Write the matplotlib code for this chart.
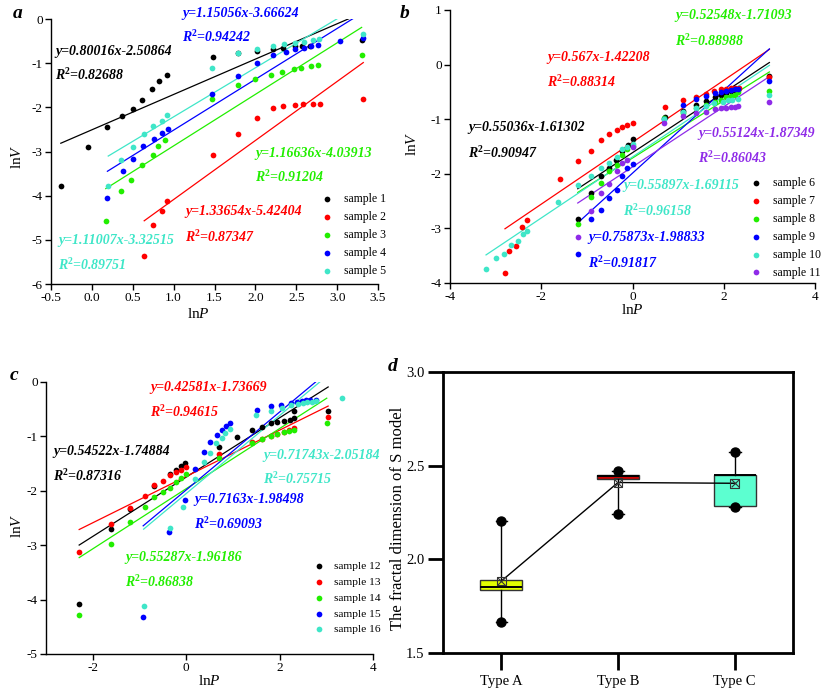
import matplotlib
matplotlib.use("Agg")
import matplotlib.pyplot as plt
import numpy as np

plt.rcParams['font.family'] = ['Liberation Serif', 'DejaVu Serif']
plt.rcParams['axes.unicode_minus'] = False
plt.rcParams['mathtext.fontset'] = 'custom'
plt.rcParams['mathtext.rm'] = 'Liberation Serif'
plt.rcParams['mathtext.it'] = 'Liberation Serif:italic'
plt.rcParams['mathtext.bf'] = 'Liberation Serif:bold'
plt.rcParams['mathtext.bfit'] = 'Liberation Serif:bold:italic'

# ---------------- Panel a data ----------------
s1_x = [-0.38, -0.05, 0.19, 0.365, 0.508, 0.614, 0.737, 0.82, 0.92, 1.48, 1.79, 2.02, 2.21, 2.34, 2.48, 2.57, 2.67, 3.31]
s1_y = [-3.78, -2.89, -2.45, -2.20, -2.03, -1.83, -1.58, -1.40, -1.27, -0.87, -0.77, -0.72, -0.68, -0.65, -0.62, -0.61, -0.60, -0.48]
s2_x = [0.64, 0.745, 0.855, 0.92, 1.48, 1.79, 2.02, 2.21, 2.34, 2.49, 2.58, 2.70, 2.79, 3.32]
s2_y = [-5.36, -4.66, -4.34, -4.11, -3.08, -2.61, -2.24, -2.02, -1.98, -1.95, -1.93, -1.93, -1.92, -1.82]
s3_x = [0.17, 0.36, 0.48, 0.61, 0.745, 0.81, 0.90, 1.475, 1.79, 2.00, 2.19, 2.33, 2.47, 2.56, 2.68, 2.76, 3.30]
s3_y = [-4.58, -3.90, -3.64, -3.31, -3.07, -2.87, -2.73, -1.80, -1.50, -1.36, -1.27, -1.20, -1.14, -1.10, -1.06, -1.04, -0.82]
s4_x = [0.19, 0.38, 0.50, 0.62, 0.76, 0.855, 0.937, 1.475, 1.79, 2.02, 2.21, 2.37, 2.48, 2.60, 2.68, 2.77, 3.03, 3.32]
s4_y = [-4.06, -3.44, -3.17, -2.87, -2.71, -2.57, -2.48, -1.70, -1.28, -1.00, -0.82, -0.75, -0.68, -0.66, -0.61, -0.58, -0.50, -0.42]
s5_x = [0.20, 0.36, 0.50, 0.64, 0.745, 0.855, 0.916, 1.475, 1.79, 2.02, 2.21, 2.35, 2.48, 2.59, 2.70, 2.78, 3.32]
s5_y = [-3.78, -3.20, -2.89, -2.61, -2.42, -2.30, -2.17, -1.10, -0.77, -0.68, -0.61, -0.57, -0.55, -0.51, -0.48, -0.45, -0.34]
a_slopes = [0.80016, 1.33654, 1.16636, 1.15056, 1.11007]
a_inters = [-2.50864, -5.42404, -4.03913, -3.66624, -3.32515]
a_r2 = ["0.82688", "0.87347", "0.91204", "0.94242", "0.89751"]
a_labels = ["sample 1", "sample 2", "sample 3", "sample 4", "sample 5"]

# ---------------- Panel b data ----------------
s6_x = [-1.2, -0.92, -0.68, -0.52, -0.36, -0.22, -0.1, 0.0, 0.71, 1.1, 1.4, 1.6, 1.8, 1.95, 2.05, 2.15, 2.25, 2.32, 3.0]
s6_y = [-2.83, -2.36, -2.04, -1.90, -1.75, -1.58, -1.47, -1.37, -0.96, -0.85, -0.74, -0.67, -0.60, -0.55, -0.52, -0.49, -0.47, -0.46, -0.21]
s7_x = [-2.795, -2.70, -2.55, -2.42, -2.32, -1.60, -1.20, -0.92, -0.68, -0.52, -0.35, -0.22, -0.13, 0.0, 0.71, 1.11, 1.39, 1.60, 1.79, 1.95, 2.06, 2.16, 2.25, 2.34, 3.0]
s7_y = [-3.82, -3.41, -3.32, -2.97, -2.84, -2.09, -1.77, -1.58, -1.38, -1.27, -1.19, -1.14, -1.11, -1.07, -0.78, -0.65, -0.59, -0.53, -0.48, -0.45, -0.44, -0.42, -0.42, -0.42, -0.22]
s8_x = [-1.2, -0.92, -0.68, -0.52, -0.35, -0.22, -0.12, 0.0, 0.7, 1.1, 1.4, 1.6, 1.8, 1.95, 2.05, 2.15, 2.25, 2.32, 3.0]
s8_y = [-2.92, -2.42, -2.17, -1.95, -1.83, -1.66, -1.55, -1.50, -0.98, -0.88, -0.80, -0.74, -0.68, -0.64, -0.60, -0.57, -0.55, -0.50, -0.49]
s9_x = [-1.2, -0.92, -0.68, -0.52, -0.35, -0.22, -0.12, 0.0, 0.7, 1.1, 1.4, 1.6, 1.8, 1.95, 2.05, 2.15, 2.25, 2.32, 3.0]
s9_y = [-3.46, -2.83, -2.67, -2.44, -2.29, -2.04, -1.90, -1.82, -1.00, -0.74, -0.63, -0.58, -0.52, -0.50, -0.48, -0.46, -0.45, -0.44, -0.30]
s10_x = [-3.21, -2.99, -2.82, -2.67, -2.52, -2.39, -2.31, -1.63, -1.20, -0.92, -0.68, -0.52, -0.35, -0.22, -0.12, 0.0, 0.69, 1.11, 1.39, 1.60, 1.79, 1.98, 2.10, 2.19, 2.32, 3.0]
s10_y = [-3.74, -3.54, -3.46, -3.30, -3.23, -3.11, -3.05, -2.51, -2.20, -2.04, -1.90, -1.80, -1.70, -1.55, -1.51, -1.46, -0.99, -0.86, -0.80, -0.76, -0.71, -0.68, -0.65, -0.64, -0.63, -0.56]
s11_x = [-1.2, -0.92, -0.68, -0.52, -0.35, -0.22, -0.12, 0.0, 0.7, 1.1, 1.4, 1.6, 1.8, 1.95, 2.05, 2.15, 2.25, 2.32, 3.0]
s11_y = [-3.16, -2.69, -2.36, -2.19, -1.95, -1.80, -1.74, -1.51, -1.07, -0.94, -0.88, -0.87, -0.82, -0.80, -0.79, -0.78, -0.77, -0.76, -0.69]
b_slopes = [0.55036, 0.567, 0.52548, 0.75873, 0.55897, 0.55124]
b_inters = [-1.61302, -1.42208, -1.71093, -1.98833, -1.69115, -1.87349]
b_r2 = ["0.90947", "0.88314", "0.88988", "0.91817", "0.96158", "0.86043"]
b_labels = ["sample 6", "sample 7", "sample 8", "sample 9", "sample 10", "sample 11"]

# ---------------- Panel c data ----------------
s12_x = [-2.29, -1.61, -1.21, -0.68, -0.35, -0.21, -0.11, -0.03, 0.71, 1.09, 1.41, 1.62, 1.81, 1.95, 2.09, 2.22, 2.31, 2.31, 3.04]
s12_y = [-4.08, -2.70, -2.34, -1.92, -1.70, -1.62, -1.54, -1.49, -1.19, -1.02, -0.89, -0.82, -0.76, -0.73, -0.71, -0.69, -0.54, -0.66, -0.54]
s13_x = [-2.29, -1.61, -1.21, -0.89, -0.68, -0.49, -0.35, -0.21, -0.11, 0.0, 0.71, 1.41, 1.62, 1.81, 1.95, 2.09, 2.21, 2.31, 3.04]
s13_y = [-3.12, -2.61, -2.32, -2.09, -1.90, -1.82, -1.71, -1.65, -1.62, -1.56, -1.32, -1.11, -1.05, -1.00, -0.95, -0.92, -0.88, -0.85, -0.65]
s14_x = [-2.29, -1.61, -1.21, -0.89, -0.68, -0.49, -0.35, -0.21, -0.11, 0.0, 0.71, 1.41, 1.62, 1.81, 1.95, 2.09, 2.21, 2.31, 3.01]
s14_y = [-4.29, -2.97, -2.58, -2.30, -2.12, -2.03, -1.94, -1.84, -1.76, -1.70, -1.39, -1.13, -1.05, -0.99, -0.95, -0.92, -0.90, -0.88, -0.76]
s15_x = [-0.92, -0.36, -0.03, 0.19, 0.39, 0.52, 0.65, 0.77, 0.86, 0.93, 1.51, 1.82, 2.04, 2.24, 2.38, 2.47, 2.56, 2.66, 2.77]
s15_y = [-4.32, -2.75, -2.17, -1.60, -1.29, -1.10, -0.97, -0.88, -0.81, -0.75, -0.52, -0.45, -0.42, -0.39, -0.37, -0.35, -0.34, -0.33, -0.33]
s16_x = [-0.91, -0.35, -0.06, 0.19, 0.39, 0.51, 0.63, 0.76, 0.84, 0.94, 1.49, 1.82, 2.06, 2.24, 2.40, 2.50, 2.59, 2.69, 2.79, 3.34]
s16_y = [-4.11, -2.68, -2.30, -1.78, -1.47, -1.30, -1.13, -1.03, -0.94, -0.86, -0.61, -0.53, -0.48, -0.43, -0.41, -0.39, -0.37, -0.36, -0.35, -0.29]
c_slopes = [0.54522, 0.42581, 0.55287, 0.7163, 0.71743]
c_inters = [-1.74884, -1.73669, -1.96186, -1.98498, -2.05184]
c_r2 = ["0.87316", "0.94615", "0.86838", "0.69093", "0.75715"]
c_labels = ["sample 12", "sample 13", "sample 14", "sample 15", "sample 16"]

# ---------------- Panel d data ----------------
d_types = ["Type A", "Type B", "Type C"]
d_min = [1.665, 2.240, 2.282]
d_q1 = [1.836, 2.429, 2.284]
d_med = [1.850, 2.445, 2.449]
d_q3 = [1.891, 2.450, 2.452]
d_max = [2.203, 2.473, 2.574]
d_mean = [1.884, 2.410, 2.406]
d_colors = ["#E2FF00", "#CC0000", "#5CFFD0"]

BLK, RED, GRN, BLU, CYN, PUR = '#000000', '#FF0000', '#22EE00', '#0000FF', '#3FE6C8', '#8F2BE8'

W, H = 827, 694
fig = plt.figure(figsize=(8.27, 6.94), dpi=100)

def fr(x, y):
    return (x / W, 1 - y / H)

def add_ax(l, t, r, b):
    return fig.add_axes([l / W, 1 - b / H, (r - l) / W, (b - t) / H])

def style_scatter_ax(ax):
    for s in ['top', 'right']:
        ax.spines[s].set_visible(False)
    for s in ['left', 'bottom']:
        ax.spines[s].set_linewidth(1.0)
    ax.tick_params(direction='out', length=4, width=1.0, labelsize=9.5, pad=2)

def panel(ax, xs, ys, slopes, inters, r2s, colors, labels, texts, legpos, fs=8.5, htp=0.95):
    for x, y, m, b, c, lab in zip(xs, ys, slopes, inters, colors, labels):
        ax.scatter(x, y, s=17, color=c, label=lab, zorder=3, linewidths=0)
        xl = np.array([min(x), max(x)])
        ax.plot(xl, m * xl + b, color=c, lw=0.9, zorder=2)
    for (tx, ty1, ty2), m, b, r2, c in zip(texts, slopes, inters, r2s, colors):
        fig.text(*fr(tx, ty1), "y=%sx%s" % (str(m), str(b)), color=c, fontsize=10,
                 fontweight='bold', style='italic', ha='left', va='center')
        fig.text(*fr(tx, ty2), r"$\mathbfit{R}^{\mathbf{2}}$=" + r2, color=c, fontsize=10,
                 fontweight='bold', style='italic', ha='left', va='center')
    fpx = fs * 100 / 72
    lx, ly = legpos
    ax.legend(loc='upper left', bbox_to_anchor=fr(lx - 0.5 * fpx, ly - 7), bbox_transform=fig.transFigure,
              frameon=False, fontsize=fs, handlelength=1.0, handletextpad=htp, borderpad=0,
              borderaxespad=0, labelspacing=0.5 * 8.5 / fs, scatterpoints=1, markerscale=1.0)

# ---- a ----
ax_a = add_ax(51, 19, 378, 284)
style_scatter_ax(ax_a)
panel(ax_a, [s1_x, s2_x, s3_x, s4_x, s5_x], [s1_y, s2_y, s3_y, s4_y, s5_y],
      a_slopes, a_inters, a_r2, [BLK, RED, GRN, BLU, CYN], a_labels,
      [(55, 52, 75), (185, 212, 237), (255, 153, 177), (182, 13, 37), (58, 240, 265)],
      (327, 200))
ax_a.set_xlim(-0.5, 3.5)
ax_a.set_ylim(-6, 0)
ax_a.set_xticks(np.arange(-0.5, 3.51, 0.5))
ax_a.set_xticklabels(["%.1f" % v for v in np.arange(-0.5, 3.51, 0.5)])
ax_a.set_yticks(range(-6, 1))
ax_a.set_xlabel(r"ln$P$", fontsize=11, labelpad=0)
ax_a.xaxis.set_label_coords((198 - 51) / 327, -0.085)
ax_a.set_ylabel(r"ln$V$", fontsize=11)
ax_a.yaxis.set_label_coords(-0.083, 0.48)

# ---- b ----
ax_b = add_ax(450, 10, 815, 283)
style_scatter_ax(ax_b)
panel(ax_b, [s6_x, s7_x, s8_x, s9_x, s10_x, s11_x], [s6_y, s7_y, s8_y, s9_y, s10_y, s11_y],
      b_slopes, b_inters, b_r2, [BLK, RED, GRN, BLU, CYN, PUR], b_labels,
      [(468, 128, 153), (547, 57, 82), (675, 15, 41), (588, 238, 263), (623, 185, 211), (698, 134, 158)],
      (756, 184))
ax_b.set_xlim(-4, 4)
ax_b.set_ylim(-4, 1)
ax_b.set_xticks([-4, -2, 0, 2, 4])
ax_b.set_yticks([-4, -3, -2, -1, 0, 1])
ax_b.set_xlabel(r"ln$P$", fontsize=11, labelpad=0)
ax_b.set_ylabel(r"ln$V$", fontsize=11)
ax_b.yaxis.set_label_coords(-0.085, 0.51)

# ---- c ----
ax_c = add_ax(46, 382, 373, 654)
style_scatter_ax(ax_c)
panel(ax_c, [s12_x, s13_x, s14_x, s15_x, s16_x], [s12_y, s13_y, s14_y, s15_y, s16_y],
      c_slopes, c_inters, c_r2, [BLK, RED, GRN, BLU, CYN], c_labels,
      [(53, 452, 476), (150, 387, 412), (125, 557, 582), (194, 500, 524), (263, 455, 479)],
      (319, 568), fs=8.2, htp=0.8)
ax_c.set_xlim(-3, 4)
ax_c.set_ylim(-5, 0)
ax_c.set_xticks([-2, 0, 2, 4])
ax_c.set_yticks([-5, -4, -3, -2, -1, 0])
ax_c.set_xlabel(r"ln$P$", fontsize=11, labelpad=0)
ax_c.set_ylabel(r"ln$V$", fontsize=11)
ax_c.yaxis.set_label_coords(-0.068, 0.47)

# ---- d ----
ax_d = add_ax(443, 372, 793, 653)
for s in ax_d.spines.values():
    s.set_linewidth(2.0)
stats = []
for i in range(3):
    stats.append(dict(med=d_med[i], q1=d_q1[i], q3=d_q3[i], whislo=d_min[i], whishi=d_max[i],
                      mean=d_mean[i], fliers=[], label=d_types[i]))
pos = [1, 2, 3]
bp = ax_d.bxp(stats, positions=pos, widths=0.36, patch_artist=True, showmeans=False,
              showcaps=True, capwidths=0.1,
              boxprops=dict(edgecolor='#333333', linewidth=1.0),
              medianprops=dict(color='black', linewidth=1.4),
              whiskerprops=dict(color='black', linewidth=1.0),
              capprops=dict(color='black', linewidth=1.0))
for patch, c in zip(bp['boxes'], d_colors):
    patch.set_facecolor(c)
ax_d.scatter(pos, d_min, s=42, color='black', zorder=4)
ax_d.scatter(pos, d_max, s=42, color='black', zorder=4)
ax_d.plot(pos, d_mean, color='black', lw=1.0, zorder=5)
ax_d.scatter(pos, d_mean, s=40, marker='s', facecolor='none', edgecolor='#333333', linewidths=0.8, zorder=6)
ax_d.scatter(pos, d_mean, s=30, marker='x', color='#333333', linewidths=0.8, zorder=6)
ax_d.set_xlim(0.5, 3.5)
ax_d.set_ylim(1.5, 3.0)
ax_d.set_yticks([1.5, 2.0, 2.5, 3.0])
ax_d.set_yticklabels(["1.5", "2.0", "2.5", "3.0"])
ax_d.set_xticks(pos)
ax_d.set_xticklabels(d_types)
ax_d.tick_params(axis='x', direction='out', length=12, width=2, labelsize=10.5, pad=4)
ax_d.tick_params(axis='y', direction='out', length=11, width=2, labelsize=10.5, pad=2.5)
ax_d.set_ylabel("The fractal dimension of S model", fontsize=12)
ax_d.yaxis.set_label_coords(-0.106, 0.48)

# panel letters
for lab, (x, y) in zip("abcd", [(18, 13), (405, 13), (14, 376), (393, 367)]):
    fig.text(*fr(x, y), lab, fontsize=14, fontweight='bold', style='italic', ha='center', va='center')

fig.savefig("out.png", dpi=100)
